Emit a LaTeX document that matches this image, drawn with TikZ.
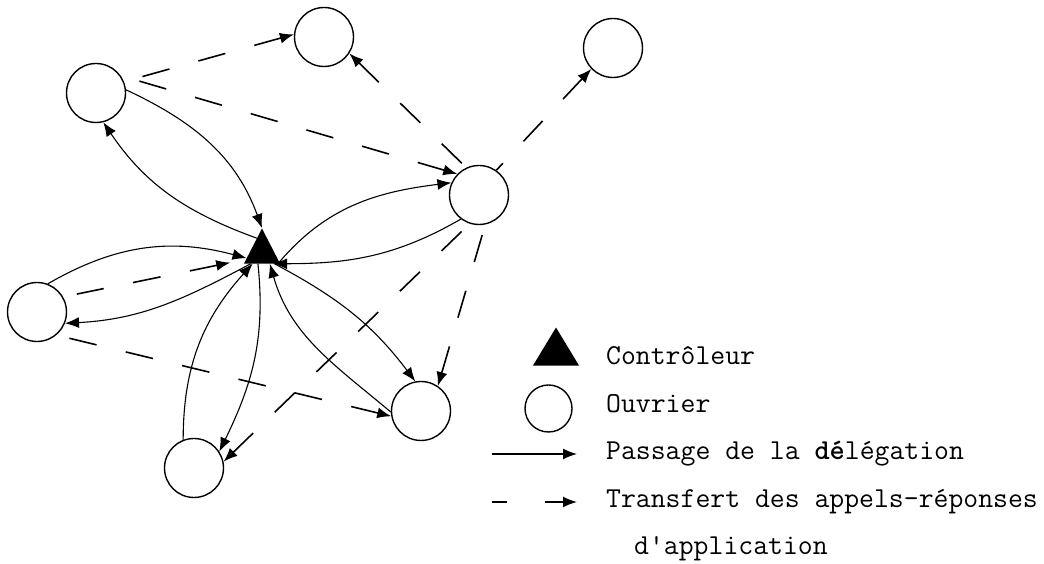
\documentclass[tikz,border=0pt]{standalone}
\usetikzlibrary{arrows.meta,shapes.geometric}
\tikzset{
  worker/.style={circle, draw, line width=1.4pt, minimum size=59pt, inner sep=0pt},
  ctrl/.style={isosceles triangle, isosceles triangle stretches, shape border rotate=90,
    fill=black, draw=none, inner sep=0pt, minimum width=36pt, minimum height=35pt},
  tipA/.tip={Latex[length=14pt,width=11pt]},
  deleg/.style={line width=1.1pt, -tipA},
  transf/.style={line width=1.6pt, dash pattern=on 28pt off 30pt, tipA-},
  legline/.style={line width=1.6pt},
  legtext/.style={anchor=base west, inner sep=0pt, font=\ttfamily\fontsize{28.9}{34}\selectfont},
}
\begin{document}
\begin{tikzpicture}[x=1pt,y=1pt]
\useasboundingbox (0,0) rectangle (1044,564);
% workers
\node[worker] (A) at (96,471) {};
\node[worker] (B) at (324,527) {};
\node[worker] (C) at (613,516) {};
\node[worker] (D) at (479,369) {};
\node[worker] (E) at (37,252) {};
\node[worker] (F) at (194,96) {};
\node[worker] (G) at (421,153) {};
% controller
\node[ctrl, anchor=apex] (T) at (262,336) {};
% delegation (solid)
\draw[deleg] (A.6) to[out=-25,in=110] (T.apex);
\draw[deleg] (T.110) to[out=160,in=-56] (A.-76);
\draw[deleg] (T.-35) to[out=50,in=187] (D.156);
\draw[deleg] (D.-127) to[out=210,in=0] (T.-45);
\draw[deleg] (E.69) to[out=30,in=165] (T.200);
\draw[deleg] (T.-135) to[out=208,in=3] (E.-22);
\draw[deleg] (F.111) to[out=90,in=228] (T.230);
\draw[deleg] (T.250) to[out=-84,in=64] (F.33);
\draw[deleg] (T.-42) to[out=-28,in=127] (G.101);
\draw[deleg] (G.182) to[out=140,in=-74] (T.-55);
% transfers (dashed), drawn from target back to source
\draw[transf] (B.175) -- (A.22);
\draw[transf] (D.136) -- (A.35);
\draw[transf] (B.-33) -- (D.115);
\draw[transf] (C.224) -- (D.55);
\draw[transf] (G.56) -- (D.-78);
\draw[transf] (F.12) -- (D.-108);
\draw[transf, shorten <=16pt, shorten >=14pt] (T.203) -- (E.30);
\draw[transf] (G.190) -- (E.-50);
% legend
\node[ctrl, minimum width=46pt, minimum height=38pt, anchor=apex] (LT) at (556,237) {};
\node[worker, minimum size=47pt] (LC) at (548.5,155.5) {};
\coordinate (ls1) at (492,110);
\coordinate (ls2) at (577,110);
\draw[deleg, line width=1.5pt] (ls1) -- (ls2);
\coordinate (ld1) at (492,62);
\coordinate (ld2) at (507,62);
\coordinate (ld3) at (545,62);
\coordinate (ld4) at (577,62);
\draw[legline] (ld1) -- (ld2);
\draw[legline, -tipA] (ld3) -- (ld4);
\node[legtext] (t1) at (606,199) {Contrôleur};
\node[legtext] (t2) at (606,151) {Ouvrier};
\node[legtext] (t3) at (606,104) {Passage de la {\bfseries dé}légation};
\node[legtext] (t4) at (606,56) {Transfert des appels-réponses};
\node[legtext] (t5) at (634,9) {d'application};
\end{tikzpicture}
\end{document}
